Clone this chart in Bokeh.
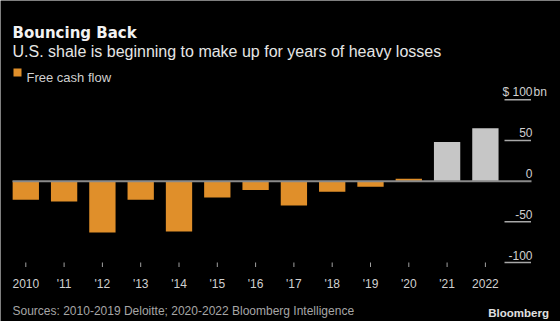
from bokeh.plotting import figure
from bokeh.models import Range1d
from bokeh.core.properties import value
from bokeh.embed import file_html
from bokeh.resources import INLINE

# ---- data ----
years = [2010, 2011, 2012, 2013, 2014, 2015, 2016, 2017, 2018, 2019, 2020, 2021, 2022]
free_cash_flow = [-23, -25, -63, -23, -62, -20, -11, -30, -13, -7, 3, 48, 65]
is_estimate = [False] * 11 + [True, True]
year_labels = ["2010", "'11", "'12", "'13", "'14", "'15", "'16", "'17", "'18", "'19", "'20", "'21", "2022"]
y_ticks = [100, 50, 0, -50, -100]
y_tick_labels = ["$ 100", "50", "0", "-50", "-100"]

title = "Bouncing Back"
subtitle = "U.S. shale is beginning to make up for years of heavy losses"
legend_label = "Free cash flow"
source = "Sources: 2010-2019 Deloitte; 2020-2022 Bloomberg Intelligence"

# ---- layout constants (pixels) ----
W, H = 560, 321
PX_PER_YEAR = 38.3
X0_PX = 25.3          # pixel centre of first year
PX_PER_UNIT = 0.8135
ZERO_PX = 180.65

x_start = years[0] - X0_PX / PX_PER_YEAR
x_end = x_start + W / PX_PER_YEAR
y_end = ZERO_PX / PX_PER_UNIT
y_start = -(H - ZERO_PX) / PX_PER_UNIT


def XP(px):
    return x_start + px / PX_PER_YEAR


def YP(py):
    return (ZERO_PX - py) / PX_PER_UNIT


ORANGE = "#e08f2a"
GREY_BAR = "#c6c6c6"

p = figure(width=W, height=H, output_backend="svg", toolbar_location=None,
           x_axis_type=None, y_axis_type=None, title=None,
           x_range=Range1d(x_start, x_end), y_range=Range1d(y_start, y_end),
           min_border=0, min_border_left=0, min_border_right=0,
           min_border_top=0, min_border_bottom=0)
p.background_fill_color = "black"
p.border_fill_color = "black"
p.outline_line_color = None

colors = [GREY_BAR if e else ORANGE for e in is_estimate]
p.vbar(x=years, top=free_cash_flow, bottom=0, width=0.687, fill_color=colors, line_color=None)

# zero line
p.segment(x0=[XP(12)], y0=[0], x1=[XP(531)], y1=[0], line_color="#8a8a8a", line_width=2)

# right-side grid segments
grid_vals = [v for v in y_ticks if v != 0]
p.segment(x0=[XP(504)] * len(grid_vals), y0=grid_vals, x1=[XP(530.5)] * len(grid_vals), y1=grid_vals,
          line_color="#a8a8a8", line_width=1.5)

FONT = value("Liberation Sans")

# y tick labels
p.text(x=[XP(532)] * len(y_ticks), y=y_ticks, text=y_tick_labels, text_align="right",
       text_baseline="alphabetic", y_offset=-7.5, text_font=FONT, text_font_size="12px",
       text_color="#d0d0d0")
p.text(x=[XP(533)], y=[y_ticks[0]], text=["bn"], text_align="left",
       text_baseline="alphabetic", y_offset=-7.5, text_font=FONT, text_font_size="12px",
       text_color="#d0d0d0")

# x ticks and labels
p.segment(x0=years, y0=[YP(262)] * len(years), x1=years, y1=[YP(266.5)] * len(years),
          line_color="#a0a0a0", line_width=1)
p.text(x=years, y=[YP(283)] * len(years), text=year_labels, text_align="center",
       text_baseline="alphabetic", text_font=FONT, text_font_size="12px", text_color="#d0d0d0")

# titles
p.text(x=[XP(12)], y=[YP(32.3)], text=[title], text_font=value("DejaVu Sans"),
       text_font_style="bold", text_font_size="15px", text_color="#f2f2f2",
       text_baseline="alphabetic")
p.text(x=[XP(12)], y=[YP(50.7)], text=[subtitle], text_font=FONT,
       text_font_size="16px", text_color="#e6e6e6", text_baseline="alphabetic")

# legend
p.scatter(x=[XP(17)], y=[YP(72)], marker="square", size=8, fill_color=ORANGE, line_color=None)
p.text(x=[XP(26)], y=[YP(76.7)], text=[legend_label], text_font=FONT,
       text_font_size="13px", text_color="#d0d0d0", text_baseline="alphabetic")

# footer
p.text(x=[XP(12)], y=[YP(310)], text=[source], text_font=FONT,
       text_font_size="12px", text_color="#a6a6a6", text_baseline="alphabetic")
p.text(x=[XP(548.5)], y=[YP(312.3)], text=["Bloomberg"], text_font=FONT,
       text_font_style="bold", text_font_size="11.5px", text_color="#e0e0e0",
       text_align="right", text_baseline="alphabetic")

open("out.html", "w").write(file_html(p, INLINE))
